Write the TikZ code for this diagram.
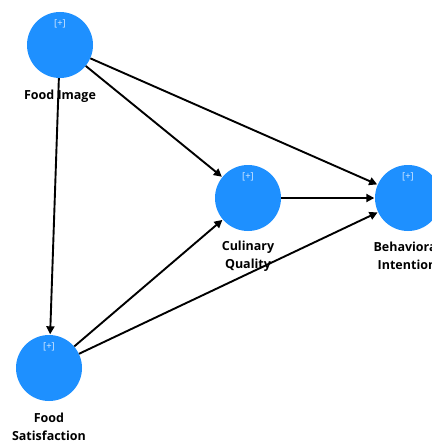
\documentclass[tikz,border=0pt]{standalone}
\usepackage{fontspec}
\setmainfont{Open Sans}
\usetikzlibrary{arrows.meta}
\definecolor{lv}{RGB}{30,144,255}
\definecolor{plus}{RGB}{215,234,255}
\tikzset{
  lvnode/.style={circle,fill=lv,draw=none,minimum size=66pt,inner sep=0pt},
  lbl/.style={font=\fontsize{12.5}{18}\selectfont\bfseries,align=center,inner sep=0pt},
  plustxt/.style={font=\fontsize{9.5}{10}\selectfont,text=plus,inner sep=0pt},
  path/.style={line width=1.9pt,-{Triangle[length=8pt,width=8pt]},shorten >=0.5pt}
}
\begin{document}
\begin{tikzpicture}[x=1pt,y=-1pt]
\useasboundingbox (0,0) rectangle (431,441);
\node[lvnode] (FI) at (60,45) {};
\node[lvnode] (CQ) at (248,198) {};
\node[lvnode] (BI) at (408,198) {};
\node[lvnode] (FS) at (49,368) {};
\foreach \n in {FI,CQ,BI,FS} {\node[plustxt] at ([yshift=21pt]\n.center) {[+]};}
\draw[path] (FI) -- (CQ);
\draw[path] (FI) -- (BI);
\draw[path] (FI) -- (FS);
\draw[path] (FS) -- (CQ);
\draw[path] (FS) -- (BI);
\draw[path] (CQ) -- (BI);
\node[lbl] (FIl) at (60,96) {Food Image};
\node[lbl] (CQl) at (248,256) {Culinary\\Quality};
\node[lbl] (BIl) at (407,256) {Behavioral\\Intention};
\node[lbl] (FSl) at (49,427) {Food\\Satisfaction};
\end{tikzpicture}
\end{document}
